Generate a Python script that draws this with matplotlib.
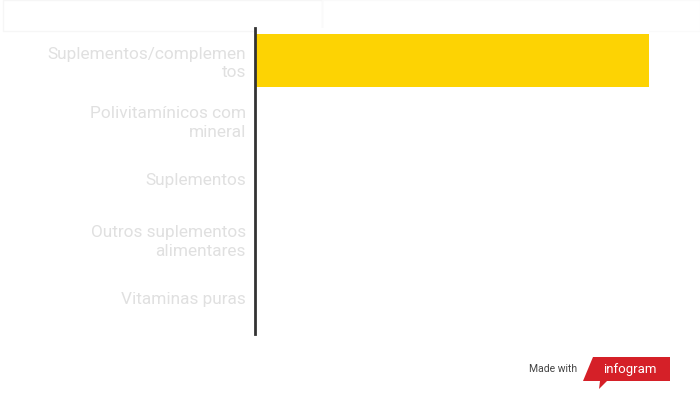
import matplotlib.pyplot as plt
from matplotlib.patches import Polygon, Rectangle

# Data
categories = ['Suplementos/complemen\ntos', 'Polivitamínicos com\nmineral',
              'Suplementos', 'Outros suplementos\nalimentares', 'Vitaminas puras']
values = [100, 0, 0, 0, 0]

plt.rcParams['font.family'] = ['Roboto', 'DejaVu Sans']

fig = plt.figure(figsize=(7, 4), dpi=100)
ax = fig.add_axes([255 / 700, 1 - 334 / 400, 394 / 700, 306 / 400])

ypos = list(range(len(categories)))
ax.barh(ypos, values, height=0.89, color='#fdd303')
ax.set_ylim(4.6, -0.54)
ax.set_xlim(0, max(values))

ax.set_yticks(ypos)
ax.set_yticklabels(categories, color='#e0e0e0', fontsize=12.4, linespacing=1.3)
ax.tick_params(axis='y', length=0, pad=6.5)
ax.set_xticks([])
for s in ['top', 'right', 'bottom']:
    ax.spines[s].set_visible(False)
ax.spines['left'].set_color('#333333')
ax.spines['left'].set_linewidth(2)

# faint tab boxes at the top, behind the chart
fig.patches.append(Rectangle((3 / 700, 1 - 31 / 400), 319 / 700, 31 / 400,
                             transform=fig.transFigure, facecolor='none',
                             edgecolor='#f6f6f6', linewidth=1, zorder=-1))
fig.patches.append(Rectangle((322 / 700, 1 - 31 / 400), 378 / 700, 31 / 400,
                             transform=fig.transFigure, facecolor='none',
                             edgecolor='#fafafa', linewidth=1, zorder=-1))

# infogram badge
fig.text(577 / 700, 1 - 369 / 400, 'Made with', ha='right', va='center',
         fontsize=7.5, color='#444444')
badge = [(593, 357), (670, 357), (670, 381), (607, 381), (599, 389),
         (600, 381), (583, 381)]
fig.patches.append(Polygon([(x / 700, 1 - y / 400) for x, y in badge], closed=True,
                           transform=fig.transFigure, facecolor='#d52028',
                           edgecolor='none'))
fig.text(630 / 700, 1 - 369 / 400, 'infogram', ha='center', va='center',
         fontsize=9.5, color='white', fontstretch='condensed')

fig.savefig('out.png', dpi=100)
